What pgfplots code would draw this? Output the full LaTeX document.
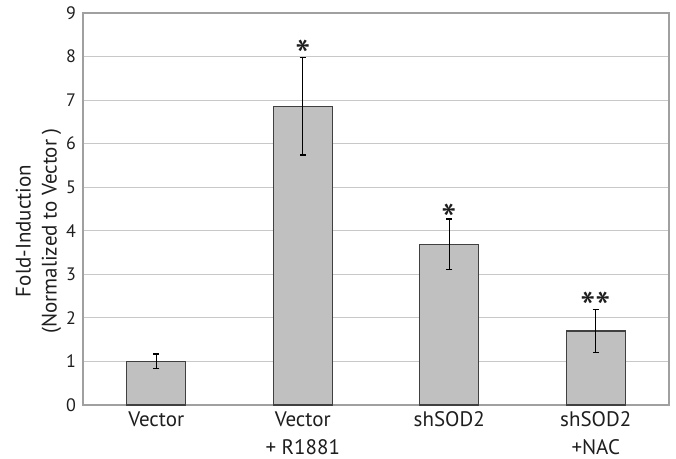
\documentclass[border=0pt]{standalone}
\usepackage{fontspec}
\setmainfont{PT Sans}
\usepackage{pgfplots}
\usepackage{pgfplotstable}
\pgfplotsset{compat=1.18}
\definecolor{barfill}{RGB}{192,192,192}
\definecolor{bardraw}{RGB}{64,64,64}
\definecolor{gridc}{RGB}{200,200,200}
\definecolor{framec}{RGB}{160,160,160}
\definecolor{txt}{RGB}{30,30,30}
\pgfplotstableread{
x y err
0 1.00 0.17
1 6.86 1.12
2 3.69 0.58
3 1.70 0.50
}\datatable
\begin{document}
\begin{tikzpicture}
\begin{axis}[
  scale only axis,
  width=293pt, height=196pt,
  xmin=-0.5, xmax=3.5,
  ymin=0, ymax=9,
  ytick={0,1,...,9},
  xtick={0,1,2,3},
  xticklabels={{Vector},{Vector\\+ R1881},{shSOD2},{shSOD2\\+NAC}},
  xticklabel style={align=center, font=\fontsize{10.5}{14}\selectfont, text=txt, inner sep=3pt},
  yticklabel style={font=\fontsize{9}{10}\selectfont, text=txt},
  /pgf/number format/assume math mode=true,
  major tick length=0pt,
  ymajorgrids,
  grid style={gridc, line width=0.6pt},
  axis line style={framec, line width=0.9pt},
  ylabel={Fold-Induction\\(Normalized to Vector )},
  ylabel style={align=center, font=\fontsize{10.5}{13}\selectfont, text=txt,
    at={(axis description cs:-0.076,0.444)}, anchor=center},
  clip=false,
]
\addplot[ybar, bar width=29.5pt, fill=barfill, draw=bardraw, line width=0.7pt,
  error bars/.cd, y dir=both, y explicit,
  error bar style={black, line width=0.6pt},
  error mark options={rotate=90, mark size=1.6pt, line width=0.6pt, black}]
  table[x=x, y=y, y error=err] {\datatable};
\node[font=\fontsize{22}{22}\selectfont, text=txt, inner sep=0pt, anchor=base] at (axis cs:1,7.65) {*};
\node[font=\fontsize{22}{22}\selectfont, text=txt, inner sep=0pt, anchor=base] at (axis cs:2,3.9) {*};
\node[font=\fontsize{22}{22}\selectfont, text=txt, inner sep=0pt, anchor=base] at (axis cs:3,1.86) {**};
\end{axis}
\pgfresetboundingbox
\path ([xshift=-41.5pt,yshift=-27pt]current axis.south west) rectangle ([xshift=3.5pt,yshift=6.5pt]current axis.north east);
\end{tikzpicture}
\end{document}
